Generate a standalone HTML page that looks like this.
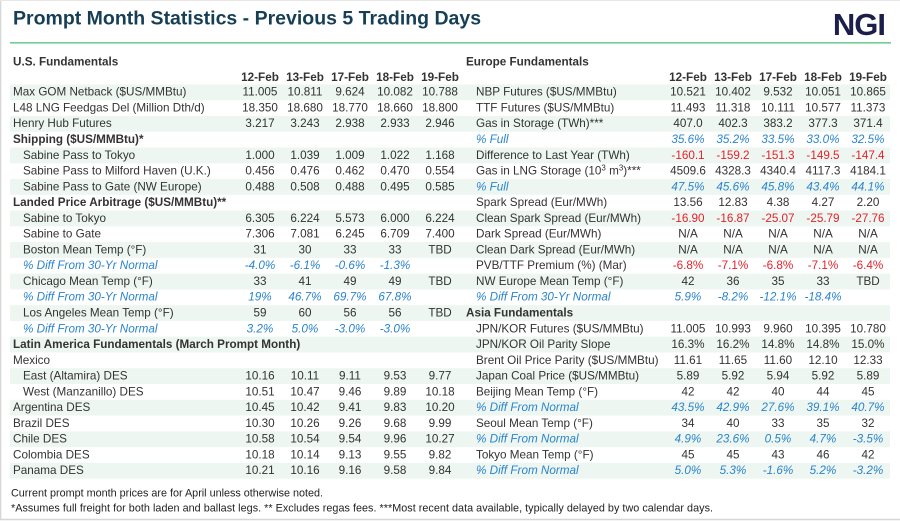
<!DOCTYPE html>
<html><head><meta charset="utf-8"><style>
html,body{margin:0;padding:0;background:#fff;}
svg{display:block;}
text{font-family:"Liberation Sans",Arial,sans-serif;}
</style></head><body>
<svg width="900" height="521" viewBox="0 0 900 521" xmlns="http://www.w3.org/2000/svg">
<rect x="0" y="0" width="900" height="521" fill="#fff"/>
<line x1="0.5" y1="0" x2="0.5" y2="520" stroke="#d6d6d6" stroke-width="1.5"/>
<line x1="0" y1="0.5" x2="900" y2="0.5" stroke="#e6e6e6" stroke-width="1"/>
<line x1="0" y1="519.5" x2="900" y2="519.5" stroke="#d6d6d6" stroke-width="1.5"/>
<text x="13" y="24.5" font-size="19.5" font-weight="bold" fill="#163f55">Prompt Month Statistics - Previous 5 Trading Days</text>
<text x="885" y="35" font-size="31" font-weight="bold" fill="#1c1f4b" text-anchor="end" letter-spacing="-1">NGI</text>
<line x1="10" y1="42.8" x2="891" y2="42.8" stroke="#72cf96" stroke-width="1.6"/>
<g fill="#eef6f1">
<rect x="10" y="84.4" width="880" height="15.77"/>
<rect x="10" y="115.94" width="880" height="15.77"/>
<rect x="10" y="147.48" width="880" height="15.77"/>
<rect x="10" y="179.02" width="880" height="15.77"/>
<rect x="10" y="210.56" width="880" height="15.77"/>
<rect x="10" y="242.10" width="880" height="15.77"/>
<rect x="10" y="273.64" width="880" height="15.77"/>
<rect x="10" y="305.18" width="880" height="15.77"/>
<rect x="10" y="336.72" width="880" height="15.77"/>
<rect x="10" y="368.26" width="880" height="15.77"/>
<rect x="10" y="399.80" width="880" height="15.77"/>
<rect x="10" y="431.34" width="880" height="15.77"/>
<rect x="10" y="462.88" width="880" height="15.77"/>
</g>
<g font-size="11.7" fill="#333">
<text x="13" y="65.5" font-weight="bold">U.S. Fundamentals</text>
<text x="466" y="65.5" font-weight="bold">Europe Fundamentals</text>
<g font-weight="bold" text-anchor="middle">
<text x="260" y="81">12-Feb</text><text x="305" y="81">13-Feb</text><text x="350" y="81">17-Feb</text><text x="395" y="81">18-Feb</text><text x="440" y="81">19-Feb</text>
<text x="688" y="81">12-Feb</text><text x="733" y="81">13-Feb</text><text x="778" y="81">17-Feb</text><text x="823" y="81">18-Feb</text><text x="868" y="81">19-Feb</text>
</g>
<!-- left labels -->
<text x="13" y="95.70">Max GOM Netback ($US/MMBtu)</text>
<text x="13" y="111.47">L48 LNG Feedgas Del (Million Dth/d)</text>
<text x="13" y="127.24">Henry Hub Futures</text>
<text x="13" y="143.01" font-weight="bold">Shipping ($US/MMBtu)*</text>
<text x="23" y="158.78">Sabine Pass to Tokyo</text>
<text x="23" y="174.55">Sabine Pass to Milford Haven (U.K.)</text>
<text x="23" y="190.32">Sabine Pass to Gate (NW Europe)</text>
<text x="13" y="206.09" font-weight="bold">Landed Price Arbitrage ($US/MMBtu)**</text>
<text x="23" y="221.86">Sabine to Tokyo</text>
<text x="23" y="237.63">Sabine to Gate</text>
<text x="23" y="253.40">Boston Mean Temp (°F)</text>
<text x="23" y="269.17" fill="#2a84cc" font-style="italic">% Diff From 30-Yr Normal</text>
<text x="23" y="284.94">Chicago Mean Temp (°F)</text>
<text x="23" y="300.71" fill="#2a84cc" font-style="italic">% Diff From 30-Yr Normal</text>
<text x="23" y="316.48">Los Angeles Mean Temp (°F)</text>
<text x="23" y="332.25" fill="#2a84cc" font-style="italic">% Diff From 30-Yr Normal</text>
<text x="13" y="348.02" font-weight="bold">Latin America Fundamentals (March Prompt Month)</text>
<text x="13" y="363.79">Mexico</text>
<text x="23" y="379.56">East (Altamira) DES</text>
<text x="23" y="395.33">West (Manzanillo) DES</text>
<text x="13" y="411.10">Argentina DES</text>
<text x="13" y="426.87">Brazil DES</text>
<text x="13" y="442.64">Chile DES</text>
<text x="13" y="458.41">Colombia DES</text>
<text x="13" y="474.18">Panama DES</text>
<!-- left values -->
<g text-anchor="middle">
<text x="260" y="95.70">11.005</text><text x="305" y="95.70">10.811</text><text x="350" y="95.70">9.624</text><text x="395" y="95.70">10.082</text><text x="440" y="95.70">10.788</text>
<text x="260" y="111.47">18.350</text><text x="305" y="111.47">18.680</text><text x="350" y="111.47">18.770</text><text x="395" y="111.47">18.660</text><text x="440" y="111.47">18.800</text>
<text x="260" y="127.24">3.217</text><text x="305" y="127.24">3.243</text><text x="350" y="127.24">2.938</text><text x="395" y="127.24">2.933</text><text x="440" y="127.24">2.946</text>
<text x="260" y="158.78">1.000</text><text x="305" y="158.78">1.039</text><text x="350" y="158.78">1.009</text><text x="395" y="158.78">1.022</text><text x="440" y="158.78">1.168</text>
<text x="260" y="174.55">0.456</text><text x="305" y="174.55">0.476</text><text x="350" y="174.55">0.462</text><text x="395" y="174.55">0.470</text><text x="440" y="174.55">0.554</text>
<text x="260" y="190.32">0.488</text><text x="305" y="190.32">0.508</text><text x="350" y="190.32">0.488</text><text x="395" y="190.32">0.495</text><text x="440" y="190.32">0.585</text>
<text x="260" y="221.86">6.305</text><text x="305" y="221.86">6.224</text><text x="350" y="221.86">5.573</text><text x="395" y="221.86">6.000</text><text x="440" y="221.86">6.224</text>
<text x="260" y="237.63">7.306</text><text x="305" y="237.63">7.081</text><text x="350" y="237.63">6.245</text><text x="395" y="237.63">6.709</text><text x="440" y="237.63">7.400</text>
<text x="260" y="253.40">31</text><text x="305" y="253.40">30</text><text x="350" y="253.40">33</text><text x="395" y="253.40">33</text><text x="440" y="253.40">TBD</text>
<g fill="#2a84cc" font-style="italic">
<text x="260" y="269.17">-4.0%</text><text x="305" y="269.17">-6.1%</text><text x="350" y="269.17">-0.6%</text><text x="395" y="269.17">-1.3%</text>
<text x="260" y="300.71">19%</text><text x="305" y="300.71">46.7%</text><text x="350" y="300.71">69.7%</text><text x="395" y="300.71">67.8%</text>
<text x="260" y="332.25">3.2%</text><text x="305" y="332.25">5.0%</text><text x="350" y="332.25">-3.0%</text><text x="395" y="332.25">-3.0%</text>
</g>
<text x="260" y="284.94">33</text><text x="305" y="284.94">41</text><text x="350" y="284.94">49</text><text x="395" y="284.94">49</text><text x="440" y="284.94">TBD</text>
<text x="260" y="316.48">59</text><text x="305" y="316.48">60</text><text x="350" y="316.48">56</text><text x="395" y="316.48">56</text><text x="440" y="316.48">TBD</text>
<text x="260" y="379.56">10.16</text><text x="305" y="379.56">10.11</text><text x="350" y="379.56">9.11</text><text x="395" y="379.56">9.53</text><text x="440" y="379.56">9.77</text>
<text x="260" y="395.33">10.51</text><text x="305" y="395.33">10.47</text><text x="350" y="395.33">9.46</text><text x="395" y="395.33">9.89</text><text x="440" y="395.33">10.18</text>
<text x="260" y="411.10">10.45</text><text x="305" y="411.10">10.42</text><text x="350" y="411.10">9.41</text><text x="395" y="411.10">9.83</text><text x="440" y="411.10">10.20</text>
<text x="260" y="426.87">10.30</text><text x="305" y="426.87">10.26</text><text x="350" y="426.87">9.26</text><text x="395" y="426.87">9.68</text><text x="440" y="426.87">9.99</text>
<text x="260" y="442.64">10.58</text><text x="305" y="442.64">10.54</text><text x="350" y="442.64">9.54</text><text x="395" y="442.64">9.96</text><text x="440" y="442.64">10.27</text>
<text x="260" y="458.41">10.18</text><text x="305" y="458.41">10.14</text><text x="350" y="458.41">9.13</text><text x="395" y="458.41">9.55</text><text x="440" y="458.41">9.82</text>
<text x="260" y="474.18">10.21</text><text x="305" y="474.18">10.16</text><text x="350" y="474.18">9.16</text><text x="395" y="474.18">9.58</text><text x="440" y="474.18">9.84</text>
</g>
<!-- right labels -->
<text x="476" y="95.70">NBP Futures ($US/MMBtu)</text>
<text x="476" y="111.47">TTF Futures ($US/MMBtu)</text>
<text x="476" y="127.24">Gas in Storage (TWh)***</text>
<text x="476" y="143.01" fill="#2a84cc" font-style="italic">% Full</text>
<text x="476" y="158.78">Difference to Last Year (TWh)</text>
<text x="476" y="174.55">Gas in LNG Storage (10<tspan font-size="8" dy="-4">3</tspan><tspan dy="4"> m</tspan><tspan font-size="8" dy="-4">3</tspan><tspan dy="4">)***</tspan></text>
<text x="476" y="190.32" fill="#2a84cc" font-style="italic">% Full</text>
<text x="476" y="206.09">Spark Spread (Eur/MWh)</text>
<text x="476" y="221.86">Clean Spark Spread (Eur/MWh)</text>
<text x="476" y="237.63">Dark Spread (Eur/MWh)</text>
<text x="476" y="253.40">Clean Dark Spread (Eur/MWh)</text>
<text x="476" y="269.17">PVB/TTF Premium (%) (Mar)</text>
<text x="476" y="284.94">NW Europe Mean Temp (°F)</text>
<text x="476" y="300.71" fill="#2a84cc" font-style="italic">% Diff From 30-Yr Normal</text>
<text x="466" y="316.48" font-weight="bold">Asia Fundamentals</text>
<text x="476" y="332.25">JPN/KOR Futures ($US/MMBtu)</text>
<text x="476" y="348.02">JPN/KOR Oil Parity Slope</text>
<text x="476" y="363.79">Brent Oil Price Parity ($US/MMBtu)</text>
<text x="476" y="379.56">Japan Coal Price ($US/MMBtu)</text>
<text x="476" y="395.33">Beijing Mean Temp (°F)</text>
<text x="476" y="411.10" fill="#2a84cc" font-style="italic">% Diff From Normal</text>
<text x="476" y="426.87">Seoul Mean Temp (°F)</text>
<text x="476" y="442.64" fill="#2a84cc" font-style="italic">% Diff From Normal</text>
<text x="476" y="458.41">Tokyo Mean Temp (°F)</text>
<text x="476" y="474.18" fill="#2a84cc" font-style="italic">% Diff From Normal</text>
<!-- right values -->
<g text-anchor="middle">
<text x="688" y="95.70">10.521</text><text x="733" y="95.70">10.402</text><text x="778" y="95.70">9.532</text><text x="823" y="95.70">10.051</text><text x="868" y="95.70">10.865</text>
<text x="688" y="111.47">11.493</text><text x="733" y="111.47">11.318</text><text x="778" y="111.47">10.111</text><text x="823" y="111.47">10.577</text><text x="868" y="111.47">11.373</text>
<text x="688" y="127.24">407.0</text><text x="733" y="127.24">402.3</text><text x="778" y="127.24">383.2</text><text x="823" y="127.24">377.3</text><text x="868" y="127.24">371.4</text>
<g fill="#2a84cc" font-style="italic">
<text x="688" y="143.01">35.6%</text><text x="733" y="143.01">35.2%</text><text x="778" y="143.01">33.5%</text><text x="823" y="143.01">33.0%</text><text x="868" y="143.01">32.5%</text>
<text x="688" y="190.32">47.5%</text><text x="733" y="190.32">45.6%</text><text x="778" y="190.32">45.8%</text><text x="823" y="190.32">43.4%</text><text x="868" y="190.32">44.1%</text>
<text x="688" y="300.71">5.9%</text><text x="733" y="300.71">-8.2%</text><text x="778" y="300.71">-12.1%</text><text x="823" y="300.71">-18.4%</text>
<text x="688" y="411.10">43.5%</text><text x="733" y="411.10">42.9%</text><text x="778" y="411.10">27.6%</text><text x="823" y="411.10">39.1%</text><text x="868" y="411.10">40.7%</text>
<text x="688" y="442.64">4.9%</text><text x="733" y="442.64">23.6%</text><text x="778" y="442.64">0.5%</text><text x="823" y="442.64">4.7%</text><text x="868" y="442.64">-3.5%</text>
<text x="688" y="474.18">5.0%</text><text x="733" y="474.18">5.3%</text><text x="778" y="474.18">-1.6%</text><text x="823" y="474.18">5.2%</text><text x="868" y="474.18">-3.2%</text>
</g>
<g fill="#e4222b">
<text x="688" y="158.78">-160.1</text><text x="733" y="158.78">-159.2</text><text x="778" y="158.78">-151.3</text><text x="823" y="158.78">-149.5</text><text x="868" y="158.78">-147.4</text>
<text x="688" y="221.86">-16.90</text><text x="733" y="221.86">-16.87</text><text x="778" y="221.86">-25.07</text><text x="823" y="221.86">-25.79</text><text x="868" y="221.86">-27.76</text>
<text x="688" y="269.17">-6.8%</text><text x="733" y="269.17">-7.1%</text><text x="778" y="269.17">-6.8%</text><text x="823" y="269.17">-7.1%</text><text x="868" y="269.17">-6.4%</text>
</g>
<text x="688" y="174.55">4509.6</text><text x="733" y="174.55">4328.3</text><text x="778" y="174.55">4340.4</text><text x="823" y="174.55">4117.3</text><text x="868" y="174.55">4184.1</text>
<text x="688" y="206.09">13.56</text><text x="733" y="206.09">12.83</text><text x="778" y="206.09">4.38</text><text x="823" y="206.09">4.27</text><text x="868" y="206.09">2.20</text>
<text x="688" y="237.63">N/A</text><text x="733" y="237.63">N/A</text><text x="778" y="237.63">N/A</text><text x="823" y="237.63">N/A</text><text x="868" y="237.63">N/A</text>
<text x="688" y="253.40">N/A</text><text x="733" y="253.40">N/A</text><text x="778" y="253.40">N/A</text><text x="823" y="253.40">N/A</text><text x="868" y="253.40">N/A</text>
<text x="688" y="284.94">42</text><text x="733" y="284.94">36</text><text x="778" y="284.94">35</text><text x="823" y="284.94">33</text><text x="868" y="284.94">TBD</text>
<text x="688" y="332.25">11.005</text><text x="733" y="332.25">10.993</text><text x="778" y="332.25">9.960</text><text x="823" y="332.25">10.395</text><text x="868" y="332.25">10.780</text>
<text x="688" y="348.02">16.3%</text><text x="733" y="348.02">16.2%</text><text x="778" y="348.02">14.8%</text><text x="823" y="348.02">14.8%</text><text x="868" y="348.02">15.0%</text>
<text x="688" y="363.79">11.61</text><text x="733" y="363.79">11.65</text><text x="778" y="363.79">11.60</text><text x="823" y="363.79">12.10</text><text x="868" y="363.79">12.33</text>
<text x="688" y="379.56">5.89</text><text x="733" y="379.56">5.92</text><text x="778" y="379.56">5.94</text><text x="823" y="379.56">5.92</text><text x="868" y="379.56">5.89</text>
<text x="688" y="395.33">42</text><text x="733" y="395.33">42</text><text x="778" y="395.33">40</text><text x="823" y="395.33">44</text><text x="868" y="395.33">45</text>
<text x="688" y="426.87">34</text><text x="733" y="426.87">40</text><text x="778" y="426.87">33</text><text x="823" y="426.87">35</text><text x="868" y="426.87">32</text>
<text x="688" y="458.41">45</text><text x="733" y="458.41">45</text><text x="778" y="458.41">43</text><text x="823" y="458.41">46</text><text x="868" y="458.41">42</text>
</g>
</g>
<g font-size="10.8" fill="#222">
<text x="11" y="496.3" textLength="312" lengthAdjust="spacing">Current prompt month prices are for April unless otherwise noted.</text>
<text x="11" y="511.3" textLength="702" lengthAdjust="spacing">*Assumes full freight for both laden and ballast legs. ** Excludes regas fees. ***Most recent data available, typically delayed by two calendar days.</text>
</g>
</svg>
</body></html>
